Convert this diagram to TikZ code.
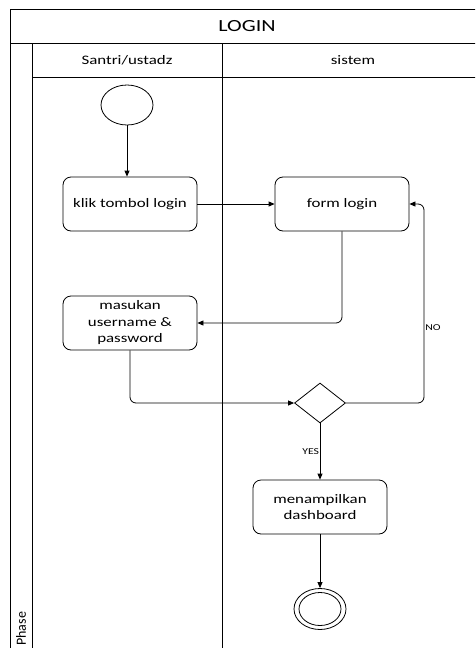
\documentclass[tikz,border=0pt]{standalone}
\usepackage{fontspec}
\setmainfont{Carlito}[FakeStretch=1.3]
\newfontfamily\phasefont{Carlito}
\usetikzlibrary{calc,shapes.geometric,arrows.meta}

\begin{document}
\begin{tikzpicture}
[x=1pt,y=-1pt,line width=0.8pt,>={Triangle[length=6pt,width=5pt]},
box/.style={draw,rounded corners=8pt,minimum width=134pt,minimum height=54pt,align=center,inner sep=1pt,font=\fontsize{13}{16.5}\selectfont},
cek/.style={draw,diamond,aspect=1.275,minimum width=51pt,minimum height=40pt,inner sep=0pt},
bulat/.style={draw,ellipse,inner sep=0pt},
lane/.style={font=\fontsize{13}{15}\selectfont},
kecil/.style={font=\fontsize{9}{10}\selectfont,inner sep=1pt},]

%Frame
\useasboundingbox (0,0) rectangle (475,648);
\clip (0,0) rectangle (475,648);

%Swimlanes
\draw[line width=1pt] (10,9) rectangle (485,660);
\draw[line width=1pt] (10,43) -- (485,43);
\draw[line width=1pt] (32,43) -- (32,660);
\draw[line width=1pt] (222,43) -- (222,660);
\draw[line width=1pt] (32,77) -- (485,77);
\node (judul) at (247,26)[font=\fontsize{17}{19}\selectfont] {LOGIN};
\node (santri) at (127,60)[lane] {Santri/ustadz};
\node (sistem) at (353,60)[lane] {sistem};
\node (phase) at (21,646)[rotate=90,anchor=west,inner sep=0pt,font=\phasefont\fontsize{14}{16}\selectfont] {Phase};

%Activities
\node (start) at (127,105)[bulat,minimum width=52pt,minimum height=40pt] {};
\node (klik) at (130,204)[box] {klik tombol login};
\node (form) at (342,204)[box] {form login};
\node (masukan) at (130,323)[box] {masukan\\username \&\\password};
\node (cek) at (320,403)[cek] {};
\node (dashboard) at (320,507)[box] {menampilkan\\dashboard};
\node (finish) at (320,609)[bulat,minimum width=52pt,minimum height=41pt] {};
\node (finish2) at (finish.center)[bulat,minimum width=42pt,minimum height=33pt] {};
\coordinate (balik) at (424,204);

%Flows
\draw[->] (start.south) -- (klik.north -| start.south);
\draw[->] (klik) -- (form);
\draw[->,rounded corners=6pt] (form.south) |- (masukan.east);
\draw[->,rounded corners=6pt] (masukan.south) |- (cek.west);
\draw[->,rounded corners=6pt] (cek.east) -| node[kecil,pos=0.69,right] {NO} (balik) -- (form.east);
\draw[->] (cek.south) -- node[kecil,midway,left,inner sep=0.5pt] {YES} (dashboard.north);
\draw[->] (dashboard.south) -- (finish.north);

\end{tikzpicture}
\end{document}
